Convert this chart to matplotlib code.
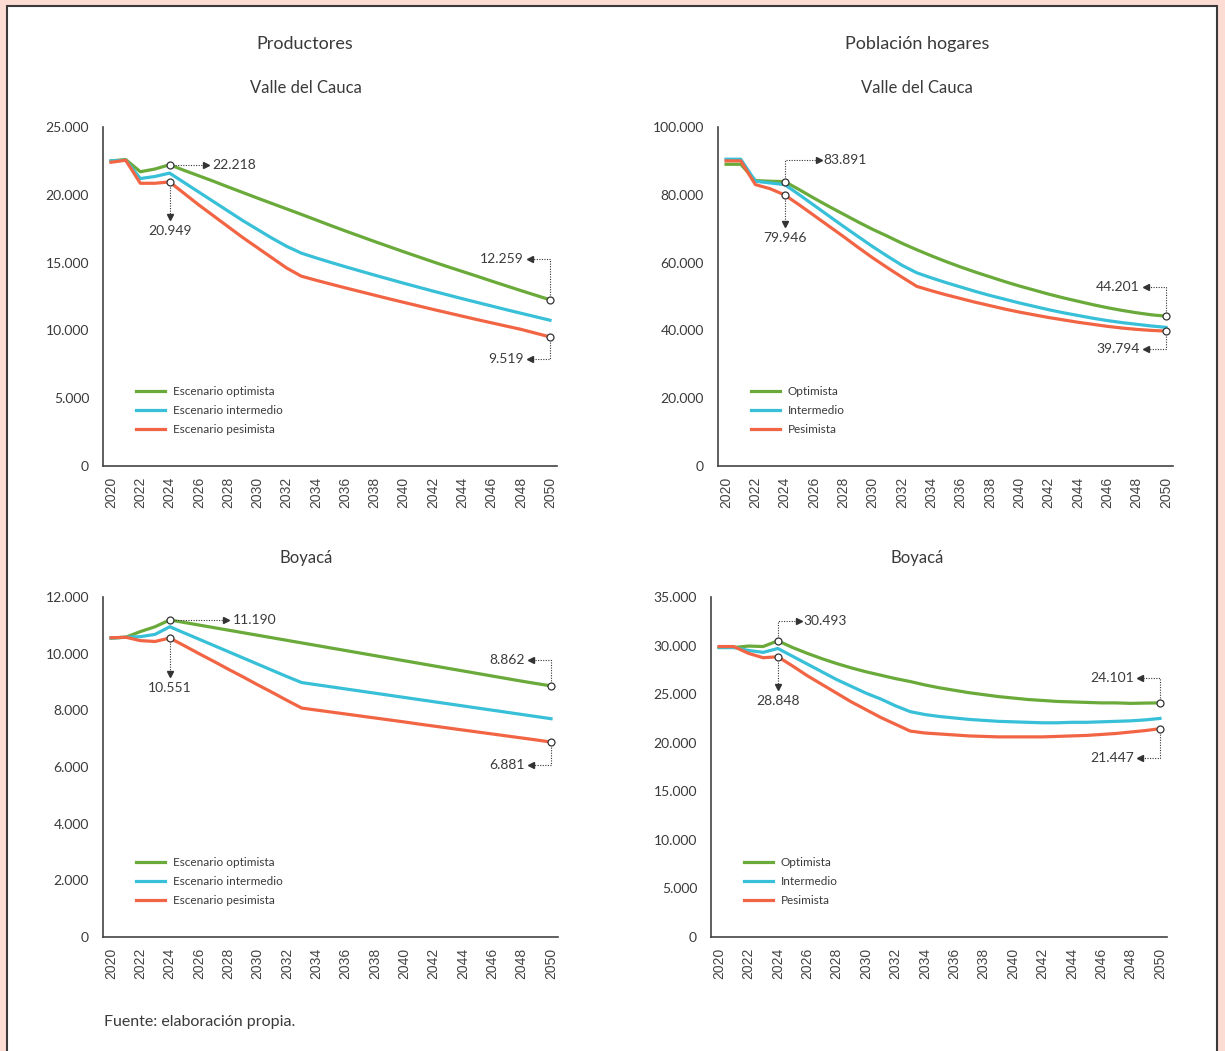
import numpy as np
import matplotlib.pyplot as plt
from matplotlib.patches import Rectangle

# data (values per year 2020-2050)
years = np.arange(2020, 2051)

prod_valle_opt = [22500, 22600, 21700, 21900, 22218, 21800, 21400, 21000, 20580, 20170,
                  19760, 19360, 18960, 18560, 18150, 17740, 17340, 16950, 16560, 16180,
                  15800, 15430, 15060, 14700, 14350, 14000, 13640, 13290, 12940, 12600, 12259]
prod_valle_int = [22500, 22550, 21200, 21350, 21600, 20900, 20200, 19500, 18800, 18100,
                  17450, 16800, 16200, 15700, 15350, 15020, 14700, 14390, 14080, 13780,
                  13480, 13190, 12900, 12620, 12340, 12070, 11800, 11530, 11270, 11010, 10750]
prod_valle_pes = [22400, 22550, 20850, 20850, 20949, 20100, 19250, 18450, 17650, 16850,
                  16100, 15350, 14600, 14000, 13700, 13420, 13140, 12870, 12600, 12330,
                  12070, 11810, 11550, 11300, 11050, 10800, 10560, 10320, 10080, 9800, 9519]

hog_valle_opt = [89000, 89000, 84200, 84000, 83891, 81500, 79000, 76600, 74300, 72000,
                 69800, 67800, 65700, 63800, 62000, 60300, 58700, 57200, 55800, 54400,
                 53100, 51900, 50700, 49600, 48600, 47600, 46700, 45900, 45200, 44600, 44201]
hog_valle_int = [90500, 90500, 84000, 83500, 83000, 80000, 76900, 73800, 70700, 67700,
                 64700, 61900, 59200, 57000, 55500, 54100, 52800, 51500, 50300, 49200,
                 48100, 47100, 46100, 45200, 44400, 43600, 42900, 42300, 41800, 41300, 40900]
hog_valle_pes = [90000, 90000, 83000, 81800, 79946, 77000, 73900, 70800, 67700, 64500,
                 61400, 58500, 55700, 53000, 51700, 50500, 49400, 48300, 47300, 46300,
                 45400, 44600, 43800, 43100, 42400, 41800, 41200, 40700, 40300, 40000, 39794]

prod_boy_opt = [10550, 10580, 10780, 10950, 11190, 11100, 11010, 10920, 10830, 10740,
                10650, 10560, 10470, 10380, 10290, 10200, 10110, 10020, 9930, 9840,
                9750, 9660, 9570, 9480, 9390, 9300, 9210, 9120, 9030, 8945, 8862]
prod_boy_int = [10550, 10580, 10600, 10680, 10950, 10730, 10510, 10290, 10070, 9850,
                9630, 9410, 9190, 8980, 8905, 8830, 8755, 8680, 8605, 8530,
                8455, 8380, 8305, 8230, 8155, 8080, 8005, 7930, 7855, 7780, 7705]
prod_boy_pes = [10560, 10580, 10460, 10430, 10551, 10280, 10000, 9730, 9450, 9180,
                8900, 8630, 8350, 8080, 8010, 7940, 7870, 7800, 7730, 7660,
                7590, 7515, 7445, 7375, 7305, 7235, 7165, 7095, 7025, 6955, 6881]

hog_boy_opt = [29800, 29800, 29950, 29900, 30493, 29800, 29200, 28650, 28150, 27700,
               27300, 26950, 26600, 26300, 25950, 25650, 25400, 25150, 24950, 24750,
               24600, 24450, 24350, 24250, 24200, 24150, 24100, 24100, 24050, 24080, 24101]
hog_boy_int = [29800, 29800, 29500, 29300, 29700, 28900, 28100, 27300, 26500, 25800,
               25100, 24500, 23800, 23200, 22900, 22700, 22550, 22400, 22300, 22200,
               22150, 22100, 22050, 22050, 22100, 22100, 22150, 22200, 22250, 22350, 22500]
hog_boy_pes = [29900, 29900, 29200, 28750, 28848, 27900, 26900, 26000, 25100, 24200,
               23400, 22600, 21900, 21200, 21000, 20900, 20800, 20700, 20650, 20600,
               20600, 20600, 20600, 20650, 20700, 20750, 20850, 20950, 21100, 21250, 21447]

labels_prod = ['Escenario optimista', 'Escenario intermedio', 'Escenario pesimista']
labels_hog = ['Optimista', 'Intermedio', 'Pesimista']
colors = ['#6aaa3a', '#38c0d8', '#f26544']

W, H = 1225, 1051
TXT = '#3a3a3a'
FONT = 'Lato'

fig = plt.figure(figsize=(W / 100, H / 100), dpi=100, facecolor='#fddcd4')
fig.add_artist(Rectangle((7 / W, -0.02), 1210 / W, 1 - 6 / H + 0.02,
                         transform=fig.transFigure, facecolor='white',
                         edgecolor='#3a3a3a', lw=1.5, zorder=0))


def fmt(v):
    return f"{v:,.0f}".replace(',', '.')


def callout(ax, x, y, kind, a, b, text):
    # dotted leader from the point, lengths in pixels
    px, py = ax.transData.transform((x, y))
    if kind == 'right':
        pts = [(0, 0), (a, 0)]
        head, tpos, ha = '>', (a + 7, 0), 'left'
    elif kind == 'down':
        pts = [(0, 0), (0, -a)]
        head, tpos, ha = 'v', (0, -a - 14), 'center'
    elif kind == 'up-right':
        pts = [(0, 0), (0, a), (b, a)]
        head, tpos, ha = '>', (b + 5, a), 'left'
    elif kind == 'up-left':
        pts = [(0, 0), (0, a), (-b, a)]
        head, tpos, ha = '<', (-b - 6, a), 'right'
    else:  # down-left
        pts = [(0, 0), (0, -a), (-b, -a)]
        head, tpos, ha = '<', (-b - 6, -a), 'right'
    inv = ax.transData.inverted()
    d = inv.transform([(px + dx, py + dy) for dx, dy in pts])
    ax.plot(d[:, 0], d[:, 1], color='#333333', lw=0.8, ls=(0, (1, 1.3)),
            clip_on=False, zorder=4)
    ax.plot(d[-1, 0], d[-1, 1], marker=head, ms=4, color='#333333',
            clip_on=False, zorder=4)
    t = inv.transform((px + tpos[0], py + tpos[1]))
    ax.text(t[0], t[1], text, ha=ha, va='center', fontsize=10, color=TXT,
            family=FONT)
    ax.plot(x, y, 'o', ms=5, mfc='white', mec='#333333', mew=0.9,
            clip_on=False, zorder=5)


panels = [
    dict(rect=(103, 127, 556.6, 466), series=[prod_valle_opt, prod_valle_int, prod_valle_pes],
         ymax=25000, ystep=5000, labels=labels_prod,
         notes=[(0, 2024, 'right', 36, 0), (2, 2024, 'down', 35, 0),
                (0, 2050, 'up-left', 41, 20), (2, 2050, 'down-left', 22, 20)]),
    dict(rect=(718, 127, 1172.6, 466), series=[hog_valle_opt, hog_valle_int, hog_valle_pes],
         ymax=100000, ystep=20000, labels=labels_hog,
         notes=[(0, 2024, 'up-right', 22, 34), (2, 2024, 'down', 29, 0),
                (0, 2050, 'up-left', 29, 20), (2, 2050, 'down-left', 18, 20)]),
    dict(rect=(103, 597, 557.6, 937), series=[prod_boy_opt, prod_boy_int, prod_boy_pes],
         ymax=12000, ystep=2000, labels=labels_prod,
         notes=[(0, 2024, 'right', 56, 0), (2, 2024, 'down', 36, 0),
                (0, 2050, 'up-left', 26, 20), (2, 2050, 'down-left', 23, 20)]),
    dict(rect=(711, 597, 1166.6, 937), series=[hog_boy_opt, hog_boy_int, hog_boy_pes],
         ymax=35000, ystep=5000, labels=labels_hog,
         notes=[(0, 2024, 'up-right', 20, 21), (2, 2024, 'down', 30, 0),
                (0, 2050, 'up-left', 25, 20), (2, 2050, 'down-left', 29, 20)]),
]

for p in panels:
    l, t, r, b = p['rect']
    ax = fig.add_axes([l / W, 1 - b / H, (r - l) / W, (b - t) / H])
    ax.set_facecolor('none')
    for vals, c, lab in zip(p['series'], colors, p['labels']):
        ax.plot(years, vals, color=c, lw=2.3, label=lab, solid_joinstyle='round')
    ax.set_xlim(2019.45, 2050.45)
    ax.set_ylim(0, p['ymax'])
    ax.set_xticks(np.arange(2020, 2051, 2))
    ax.set_xticklabels([str(y) for y in range(2020, 2051, 2)], rotation=90,
                       family='Liberation Sans', fontsize=10, color='#444444')
    yt = np.arange(0, p['ymax'] + 1, p['ystep'])
    ax.set_yticks(yt)
    ax.set_yticklabels([fmt(v) for v in yt], family=FONT, fontsize=10, color=TXT)
    ax.tick_params(axis='both', length=0)
    ax.tick_params(axis='y', pad=10)
    ax.tick_params(axis='x', pad=8)
    for s in ['top', 'right']:
        ax.spines[s].set_visible(False)
    for s in ['left', 'bottom']:
        ax.spines[s].set_color('#444444')
        ax.spines[s].set_linewidth(1.2)
    leg = ax.legend(loc='upper left', bbox_to_anchor=(0.072, 0.235), frameon=False,
                    borderpad=0, borderaxespad=0, handlelength=2.45, handletextpad=0.7,
                    labelspacing=0.66, prop={'family': FONT, 'size': 8.5})
    for txt in leg.get_texts():
        txt.set_color(TXT)
    for si, yr, kind, a, bb in p['notes']:
        v = p['series'][si][yr - 2020]
        callout(ax, yr, v, kind, a, bb, fmt(v))

# titles
fig.text(305 / W, 1 - 44 / H, 'Productores', ha='center', va='center', fontsize=13,
         color=TXT, family=FONT)
fig.text(917 / W, 1 - 44 / H, 'Población hogares', ha='center', va='center', fontsize=13,
         color=TXT, family=FONT)
for xc in (306, 917):
    fig.text(xc / W, 1 - 88 / H, 'Valle del Cauca', ha='center', va='center', fontsize=12,
             color=TXT, family=FONT)
    fig.text(xc / W, 1 - 558 / H, 'Boyacá', ha='center', va='center', fontsize=12,
             color=TXT, family=FONT)
fig.text(104 / W, 1 - 1022 / H, 'Fuente: elaboración propia.', ha='left', va='center',
         fontsize=11.5, color=TXT, family=FONT)

fig.savefig('out.png', dpi=100, facecolor=fig.get_facecolor())
